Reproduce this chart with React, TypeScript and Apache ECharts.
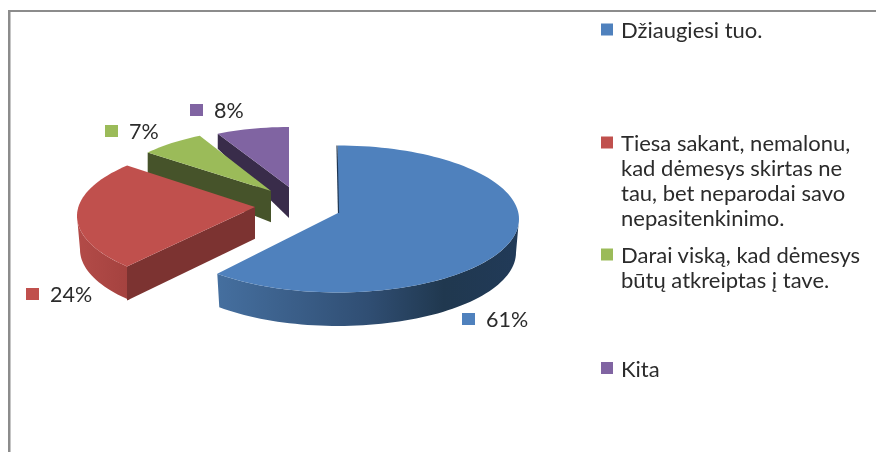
import React, { useEffect, useRef } from "react";
import * as echarts from "echarts";

const categories = [
  "Džiaugiesi tuo.",
  "Tiesa sakant, nemalonu,\nkad dėmesys skirtas ne\ntau, bet neparodai savo\nnepasitenkinimo.",
  "Darai viską, kad dėmesys\nbūtų atkreiptas į tave.",
  "Kita",
];
const values = [61, 24, 7, 8];
const topColors = ["#4F81BD", "#C0504D", "#9BBB59", "#8064A2"];
const wallColors = ["#1F3652", "#7C3331", "#46532A", "#392C4A"];

// per-slice placement of the exploded 3D pie: apex, ellipse radii and perspective
const sliceApexX = [338, 255, 271, 289];
const sliceApexY = [213, 207, 191, 187];
const sliceRx = [181, 178, 163, 163];
const sliceRy = [73.5, 72.5, 68, 66];
const sliceDrop = [6, 9, 6, 6];
const sliceTurn = [3.5, 10, 6, 6];
const labelAnchors = [[462, 319], [26, 294], [105, 131], [190, 110]];
const legendTops = [29.5, 142.5, 254.5, 368];

const FONT = "Lato, 'Noto Sans', sans-serif";
const OUTER_DEPTH = 33.5;
const LABEL_FONT = `21.5px ${FONT}`;
const LEGEND_FONT = `22px ${FONT}`;
const TEXT_COLOR = "#2b2b2b";

const rad = (d: number) => (d * Math.PI) / 180;
const edgeDepth = (y: number) => (y < 187 ? 15 + ((y - 133) * 16) / 54 : 31 + (y - 187) * 0.04);

function renderSlice(params: any, api: any) {
  const i = params.dataIndex;
  const total = values.reduce((a, b) => a + b, 0);
  let before = 0;
  for (let k = 0; k < i; k++) before += values[k];
  // the chart's perspective slightly turns the apparent angle of each boundary
  const warp = (d: number) => d - sliceTurn[i] * Math.sin(rad(d));
  const a0 = warp((before / total) * 360);
  const a1 = warp(((before + api.value(0)) / total) * 360);
  const ax = sliceApexX[i];
  const ay = sliceApexY[i];
  const cy = ay + sliceDrop[i];
  const rx = sliceRx[i];
  const ry = sliceRy[i];
  const pt = (d: number, drop = 0, shrink = 0): number[] => [
    ax + (rx - shrink) * Math.sin(rad(d)),
    cy + drop - ry * Math.cos(rad(d)),
  ];
  const arc = (from: number, to: number, drop = 0, shrink = 0) => {
    const out: number[][] = [];
    const n = Math.max(2, Math.ceil(Math.abs(to - from) / 2));
    for (let k = 0; k <= n; k++) out.push(pt(from + ((to - from) * k) / n, drop, shrink));
    return out;
  };
  const base = (4 - i) * 10;
  const children: any[] = [];

  // outer wall: the part of the rim that faces the viewer
  const w0 = Math.max(a0, 90);
  const w1 = Math.min(a1, 270);
  if (w1 > w0) {
    const fill =
      i === 0
        ? new echarts.graphic.LinearGradient(0, 0, 1, 0, [
            { offset: 0, color: "#456F9F" },
            { offset: 0.5, color: "#304E73" },
            { offset: 0.75, color: "#20384F" },
            { offset: 1, color: "#213A58" },
          ])
        : new echarts.graphic.LinearGradient(0, 0, 1, 0, [
            { offset: 0, color: "#B34B48" },
            { offset: 1, color: "#A4423F" },
          ]);
    children.push({
      type: "polygon",
      z2: base,
      shape: { points: [...arc(w0, w1), ...arc(w1, w0, OUTER_DEPTH, 3)] },
      style: { fill },
    });
  }
  // cut wall along the slice's leading edge
  if (a0 > 180) {
    const p = pt(a0);
    children.push({
      type: "polygon",
      z2: base + 1,
      shape: {
        points: [
          [ax, ay],
          p,
          [p[0], p[1] + edgeDepth(p[1])],
          [ax, ay + edgeDepth(ay)],
        ],
      },
      style: { fill: wallColors[i] },
    });
  } else if (i === 0) {
    children.push({
      type: "line",
      z2: base + 3,
      shape: { x1: ax + 0.5, y1: ay, x2: pt(a0)[0] - 1, y2: pt(a0)[1] },
      style: { stroke: wallColors[i], lineWidth: 1.2 },
    });
  }
  // top face
  children.push({
    type: "polygon",
    z2: base + 2,
    shape: { points: [[ax, ay], ...arc(a0, a1)] },
    style: { fill: topColors[i] },
  });
  // data label with its colour key
  const [lx, ly] = labelAnchors[i];
  children.push({
    type: "rect",
    z2: 100,
    shape: { x: lx, y: ly - 6, width: 13, height: 12 },
    style: { fill: topColors[i] },
  });
  children.push({
    type: "text",
    z2: 100,
    style: {
      text: `${api.value(0)}%`,
      x: lx + 24,
      y: ly,
      font: LABEL_FONT,
      fill: TEXT_COLOR,
      verticalAlign: "middle",
      align: "left",
    },
  });
  return { type: "group", children };
}

export default function App() {
  const ref = useRef<HTMLDivElement>(null);
  useEffect(() => {
    document.body.style.margin = "0";
    const chart = echarts.init(ref.current!, undefined, { renderer: "svg" });
    const legendGraphics: any[] = [];
    categories.forEach((name, i) => {
      legendGraphics.push({
        type: "rect",
        shape: { x: 601, y: legendTops[i] - 6, width: 12, height: 12 },
        style: { fill: topColors[i] },
      });
      legendGraphics.push({
        type: "text",
        style: {
          text: name,
          x: 621,
          y: legendTops[i] - 12.5,
          font: LEGEND_FONT,
          lineHeight: 25,
          fill: TEXT_COLOR,
          verticalAlign: "top",
          align: "left",
        },
      });
    });
    chart.setOption({
      animation: false,
      backgroundColor: "#ffffff",
      graphic: [
        { type: "rect", shape: { x: 8, y: 10, width: 868, height: 2 }, style: { fill: "#8C8C8C" } },
        { type: "rect", shape: { x: 8, y: 10, width: 2.5, height: 442 }, style: { fill: "#8C8C8C" } },
        ...legendGraphics,
      ],
      series: [
        {
          type: "custom",
          coordinateSystem: "none",
          renderItem: renderSlice,
          data: values.map((v) => [v]),
          silent: true,
        },
      ],
    });
    return () => chart.dispose();
  }, []);
  return <div ref={ref} style={{ width: 876, height: 452, filter: "blur(0.4px)" }} />;
}
